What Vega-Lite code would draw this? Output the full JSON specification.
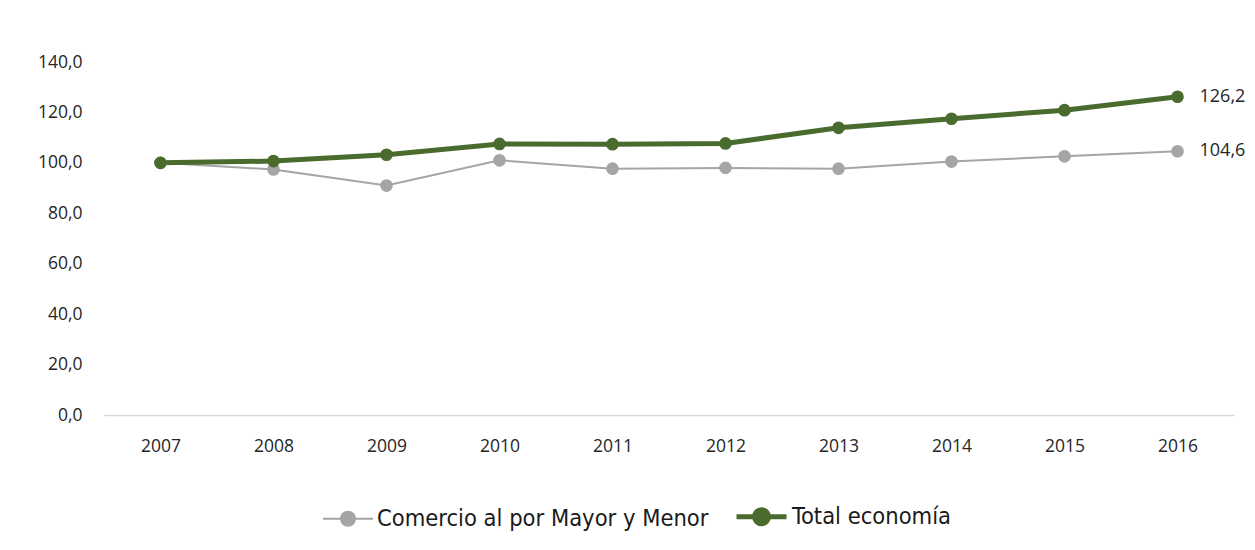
{
  "$schema": "https://vega.github.io/schema/vega-lite/v6.json",
  "width": 1130,
  "height": 353,
  "autosize": {"type": "none"},
  "padding": {"left": 104, "top": 62, "right": 21, "bottom": 135},
  "background": "white",
  "config": {
    "view": {"stroke": null},
    "font": "Open Sans",
    "locale": {"number": {"decimal": ",", "thousands": ".", "grouping": [3], "currency": ["", " €"]}}
  },
  "data": {
    "values": [
      {"year": "2007", "serie": "Comercio al por Mayor y Menor", "value": 100.0},
      {"year": "2008", "serie": "Comercio al por Mayor y Menor", "value": 97.4},
      {"year": "2009", "serie": "Comercio al por Mayor y Menor", "value": 91.0},
      {"year": "2010", "serie": "Comercio al por Mayor y Menor", "value": 101.0},
      {"year": "2011", "serie": "Comercio al por Mayor y Menor", "value": 97.7},
      {"year": "2012", "serie": "Comercio al por Mayor y Menor", "value": 98.0},
      {"year": "2013", "serie": "Comercio al por Mayor y Menor", "value": 97.7},
      {"year": "2014", "serie": "Comercio al por Mayor y Menor", "value": 100.5},
      {"year": "2015", "serie": "Comercio al por Mayor y Menor", "value": 102.6},
      {"year": "2016", "serie": "Comercio al por Mayor y Menor", "value": 104.6},
      {"year": "2007", "serie": "Total economía", "value": 100.0},
      {"year": "2008", "serie": "Total economía", "value": 100.7},
      {"year": "2009", "serie": "Total economía", "value": 103.2},
      {"year": "2010", "serie": "Total economía", "value": 107.5},
      {"year": "2011", "serie": "Total economía", "value": 107.4},
      {"year": "2012", "serie": "Total economía", "value": 107.7},
      {"year": "2013", "serie": "Total economía", "value": 113.9},
      {"year": "2014", "serie": "Total economía", "value": 117.5},
      {"year": "2015", "serie": "Total economía", "value": 120.9},
      {"year": "2016", "serie": "Total economía", "value": 126.2}
    ]
  },
  "encoding": {
    "x": {
      "field": "year", "type": "ordinal",
      "scale": {"type": "point", "padding": 0.5},
      "axis": {
        "title": null, "labelAngle": 0, "ticks": false,
        "domainColor": "#D9D9D9", "domainWidth": 1.5,
        "labelPadding": 22, "labelFontSize": 17.5, "labelColor": "#262626",
        "labelFont": "Open Sans", "grid": false
      }
    },
    "y": {
      "field": "value", "type": "quantitative",
      "scale": {"domain": [0, 140]},
      "axis": {
        "title": null, "values": [0, 20, 40, 60, 80, 100, 120, 140],
        "domain": false, "ticks": false, "grid": false, "format": ".1f",
        "labelPadding": 22, "labelFontSize": 17.5, "labelColor": "#262626",
        "labelFont": "Open Sans"
      }
    },
    "color": {
      "field": "serie", "type": "nominal",
      "scale": {
        "domain": ["Comercio al por Mayor y Menor", "Total economía"],
        "range": ["#A5A5A5", "#4A6B2E"]
      },
      "legend": {
        "title": null, "orient": "none", "direction": "horizontal",
        "legendX": 218, "legendY": 427,
        "symbolType": "M-1,0L1,0M-0.28,0A0.28,0.28,0,1,1,0.28,0A0.28,0.28,0,1,1,-0.28,0Z",
        "symbolSize": 2500, "symbolStrokeWidth": 2.5,
        "labelFont": "DejaVu Sans Condensed", "labelFontSize": 23.5, "labelColor": "#1a1a1a",
        "labelOffset": 3, "columnPadding": 17, "labelLimit": 500,
        "encode": {
          "symbols": {
            "update": {
              "fill": {"scale": "color", "field": "value"},
              "stroke": {"scale": "color", "field": "value"},
              "strokeWidth": {"signal": "datum.value === 'Total economía' ? 5 : 2"},
              "opacity": {"value": 1}
            }
          }
        }
      }
    }
  },
  "layer": [
    {
      "mark": {"type": "line"},
      "encoding": {
        "strokeWidth": {
          "field": "serie", "type": "nominal",
          "scale": {"domain": ["Comercio al por Mayor y Menor", "Total economía"], "range": [2, 5]},
          "legend": null
        }
      }
    },
    {
      "mark": {"type": "point", "filled": true, "opacity": 1, "size": 160},
      "encoding": {}
    },
    {
      "transform": [{"filter": "datum.year === '2016'"}],
      "mark": {"type": "text", "align": "left", "baseline": "middle", "dx": 22, "fontSize": 18, "font": "Open Sans", "color": "#262626"},
      "encoding": {
        "text": {"field": "value", "type": "quantitative", "format": ".1f"},
        "color": {"value": "#262626"}
      }
    }
  ]
}
